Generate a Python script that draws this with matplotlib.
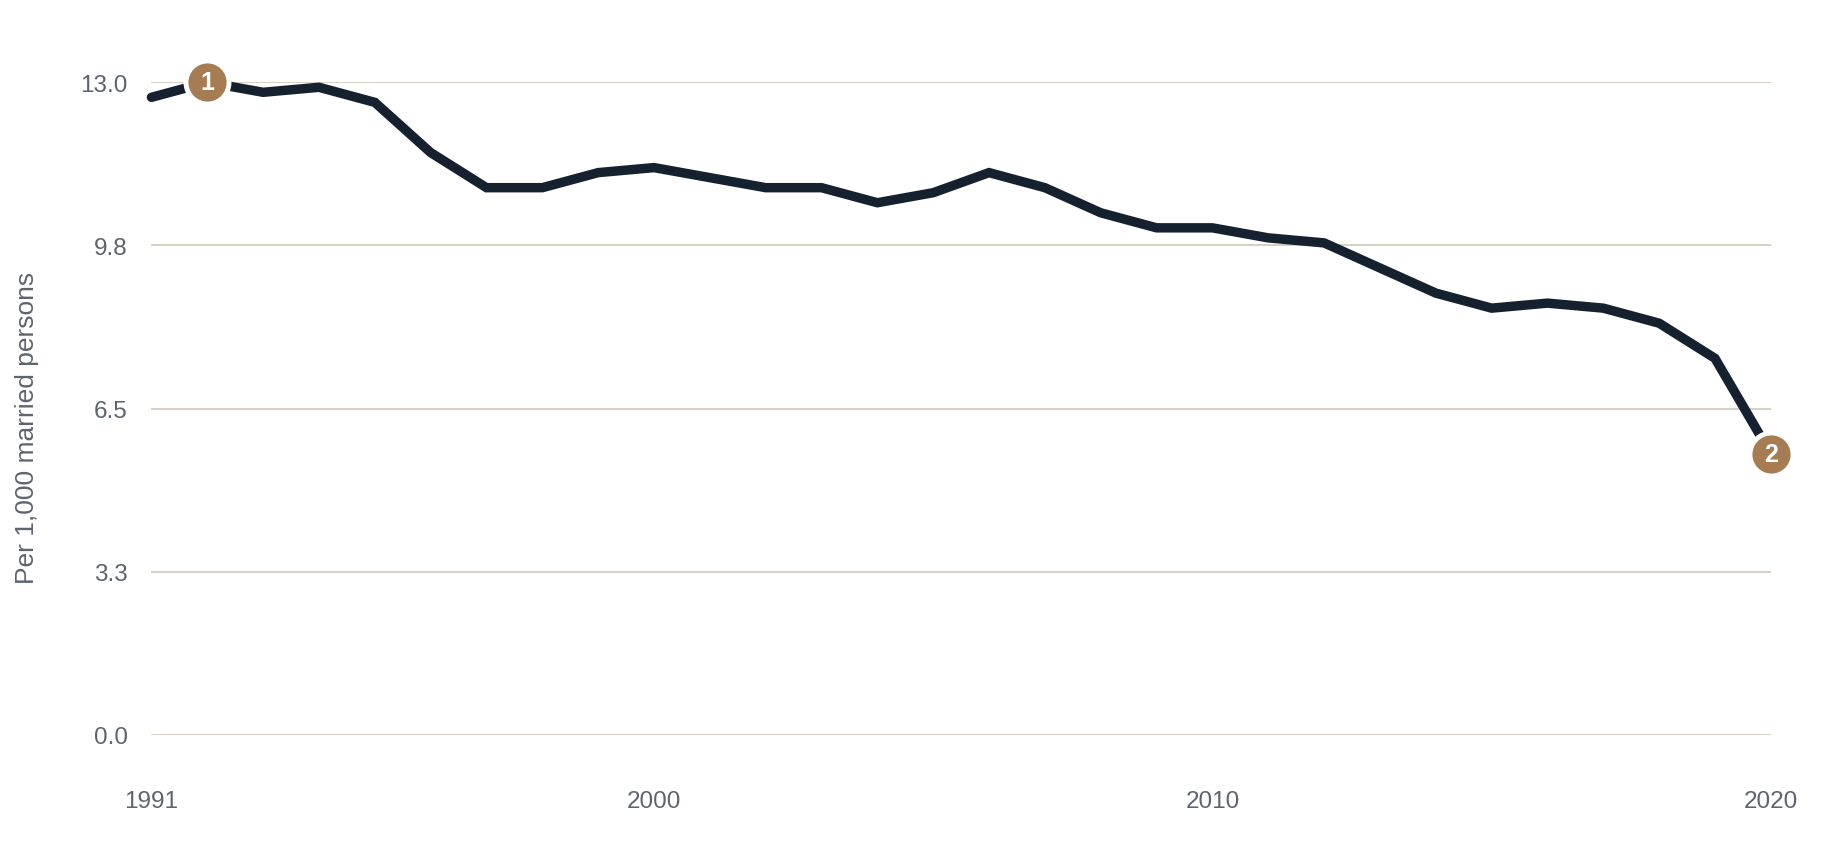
import matplotlib
matplotlib.use("Agg")
import matplotlib.pyplot as plt

years = list(range(1991, 2021))
rate = [12.7, 13.0, 12.8, 12.9, 12.6, 11.6, 10.9, 10.9, 11.2, 11.3,
        11.1, 10.9, 10.9, 10.6, 10.8, 11.2, 10.9, 10.4, 10.1, 10.1,
        9.9, 9.8, 9.3, 8.8, 8.5, 8.6, 8.5, 8.2, 7.5, 5.6]
y_ticks = [0.0, 3.25, 6.5, 9.75, 13.0]
y_tick_labels = ["0.0", "3.3", "6.5", "9.8", "13.0"]
x_ticks = [1991, 2000, 2010, 2020]
x_tick_labels = ["1991", "2000", "2010", "2020"]
callout_years = [1992, 2020]
callout_labels = ["1", "2"]
y_label = "Per 1,000 married persons"

plt.rcParams['font.family'] = ['Liberation Sans', 'DejaVu Sans']

fig = plt.figure(figsize=(18.4, 8.62), dpi=100)
ax = fig.add_axes([0.0823, 0.1464, 0.8801, 0.757])

ax.plot(years, rate, color='#16212F', lw=6.8, solid_joinstyle='miter',
        solid_capstyle='round', zorder=3, clip_on=False)

for yr, lab in zip(callout_years, callout_labels):
    v = rate[years.index(yr)]
    ax.plot([yr], [v], marker='o', markersize=31, markerfacecolor='#A67C52',
            markeredgecolor='white', markeredgewidth=3.5, zorder=5, clip_on=False)
    ax.text(yr, v, lab, color='white', fontsize=18, fontweight='bold',
            ha='center', va='center', zorder=6, clip_on=False)

ax.set_xlim(1991, 2020)
ax.set_ylim(0, 13.0)
ax.set_yticks(y_ticks)
ax.set_yticklabels(y_tick_labels)
ax.set_xticks(x_ticks)
ax.set_xticklabels(x_tick_labels)
ax.grid(axis='y', color='#D5CFC4', lw=1.4, zorder=1)
ax.grid(axis='x', visible=False)
for s in ax.spines.values():
    s.set_visible(False)
ax.tick_params(axis='both', length=0, labelsize=17.5, colors='#5D6470')
ax.tick_params(axis='y', pad=17)
ax.tick_params(axis='x', pad=40)

fig.text(27 / 1840, 1 - 428 / 862, y_label, rotation=90, ha='center', va='center',
         fontsize=19, color='#5D6470')

fig.savefig('out.png', dpi=100, facecolor='white')
